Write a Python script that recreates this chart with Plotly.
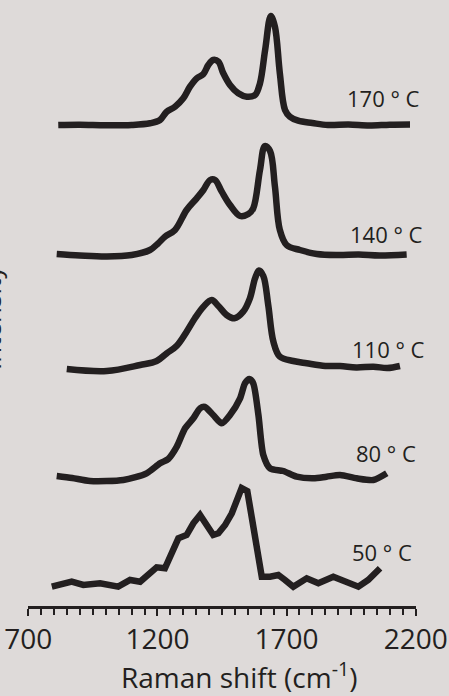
import plotly.graph_objects as go

# Raman spectra recorded at different temperatures (arbitrary intensity units)
temps = ["170 ° C", "140 ° C", "110 ° C", "80 ° C", "50 ° C"]

shift_170 = [816, 900, 1000, 1100, 1171, 1210, 1236, 1268, 1300, 1326, 1352, 1378, 1397, 1416,
             1436, 1455, 1481, 1513, 1546, 1578, 1597, 1617, 1639, 1655, 1674, 1694, 1713,
             1745, 1800, 1860, 1940, 2020, 2100, 2178]
int_170 = [0, 0.3, -0.3, 0, 1.7, 5, 13.3, 18.3, 26.7, 38.3, 46.7, 51, 60, 65,
           63.3, 51.7, 40, 31.7, 28.3, 30, 41.7, 75, 109, 98.3, 51.7, 15, 8.3,
           4.3, 2, 0, 0.5, -0.5, 0.3, 0.5]

shift_140 = [810, 900, 1004, 1100, 1171, 1203, 1229, 1268, 1313, 1352, 1378, 1404, 1423, 1449,
             1481, 1520, 1552, 1571, 1597, 1616, 1636, 1655, 1674, 1700, 1752, 1817,
             1900, 1980, 2060, 2165]
int_140 = [1, -0.5, -1.5, 0, 5, 11.7, 18.3, 25, 45, 56.7, 65, 75, 75, 63.3,
           50, 39, 41, 46.7, 85, 109, 104, 68.3, 25, 10, 5, 1,
           0, 0.5, -0.5, 0.5]

shift_110 = [849, 1004, 1133, 1197, 1236, 1275, 1313, 1345, 1378, 1410, 1436, 1468, 1498, 1532,
             1558, 1578, 1593, 1610, 1629, 1649, 1674, 1726, 1778, 1850, 1907, 1970, 2036,
             2090, 2139]
int_110 = [0, -2, 4, 8, 15.7, 23.3, 37.3, 50.7, 62.3, 69, 63, 54, 50.7, 57.3,
           70.7, 90.7, 98.5, 93, 64, 27.3, 12.3, 8, 5.7, 3, 3, 1.5, 2.3,
           1, 3]

shift_80 = [810, 870, 939, 1068, 1158, 1210, 1242, 1275, 1307, 1339, 1365, 1384, 1416, 1449,
            1481, 1520, 1539, 1556, 1571, 1591, 1610, 1636, 1687, 1739, 1804, 1855, 1907,
            1971, 2036, 2088]
int_80 = [2, 0, -3, -2, 4.7, 14.7, 19, 31.3, 49.7, 59.7, 69.7, 71, 63, 54.7,
          63, 79.7, 94.7, 99, 94.7, 63, 23, 9.7, 7, 1.3, -0.3, 1.3, 3,
          -0.3, -2, 4.7]

shift_50 = [791, 868, 913, 978, 1048, 1094, 1133, 1178, 1197, 1229, 1255, 1281, 1313, 1339,
            1365, 1391, 1416, 1436, 1462, 1488, 1507, 1526, 1548, 1565, 1584, 1604, 1636,
            1668, 1694, 1726, 1778, 1823, 1881, 1933, 1978, 2016, 2062]
int_50 = [-1.7, 3.3, 0, 1.7, -1.7, 5, 3.3, 15, 17.7, 16.7, 30, 46.7, 50, 61.7,
          70, 60, 50, 51.7, 60, 71.7, 83.3, 97, 94, 68.3, 31.7, 8.3, 8.3,
          10, 5, -1.7, 6.7, 1.7, 8.3, 3.3, -1.7, 5, 16.7]

# vertical stacking offsets of each spectrum
offsets = [481, 351, 237, 128, 21]
# where each temperature tag sits (Raman shift, height above its baseline)
label_x = [2077, 2085, 2096, 2085, 2070]
label_dy = [27, 21, 20, 25, 33]

x_range = [700, 2200]
x_major = [700, 1200, 1700, 2200]

spectra = [(shift_170, int_170), (shift_140, int_140), (shift_110, int_110),
           (shift_80, int_80), (shift_50, int_50)]
smoothing = [1.0, 1.0, 1.0, 0.7, 0.0]

INK = "#231f20"
BG = "#dedad9"
W, H = 449, 696

fig = go.Figure()
for (xs, ys), off, sm in zip(spectra, offsets, smoothing):
    line = dict(color=INK, width=6.5)
    if sm > 0:
        line.update(shape="spline", smoothing=sm)
    fig.add_trace(go.Scatter(
        x=xs, y=[v + off for v in ys], mode="lines", line=line,
        hoverinfo="skip", showlegend=False))

annotations = []
for t, lx, dy, off in zip(temps, label_x, label_dy, offsets):
    annotations.append(dict(x=lx, y=off + dy, xref="x", yref="y", text=t,
                            showarrow=False, xanchor="center", yanchor="middle",
                            font=dict(family="Open Sans", size=22, color=INK)))

# axis title below the ticks
annotations.append(dict(x=239.5 / W, y=1 - 675 / H, xref="paper", yref="paper",
                        text="Raman shift (cm<sup>-1</sup>)", showarrow=False,
                        xanchor="center", yanchor="middle",
                        font=dict(family="Open Sans", size=28, color=INK)))
# vertical intensity title at the left edge, mostly beyond the page border
annotations.append(dict(x=11 / W, y=1 - 318 / H, xref="paper", yref="paper",
                        text="Intensity", textangle=-90, showarrow=False,
                        xanchor="right", yanchor="middle",
                        font=dict(family="Open Sans", size=26, color=INK)))

fig.update_layout(
    width=W, height=H,
    margin=dict(l=0, r=0, t=0, b=0, pad=0),
    paper_bgcolor=BG, plot_bgcolor=BG,
    annotations=annotations,
    xaxis=dict(domain=[28.3 / W, 415.7 / W], range=x_range,
               tickvals=x_major, ticktext=[str(v) for v in x_major],
               ticks="outside", ticklen=7, tickwidth=2, tickcolor=INK,
               showline=True, linecolor=INK, linewidth=2.5,
               showgrid=False, zeroline=False,
               tickfont=dict(family="Open Sans", size=28, color=INK),
               minor=dict(dtick=50, tick0=700, ticks="outside", ticklen=6,
                          tickwidth=2, tickcolor=INK, showgrid=False),
               automargin=False),
    yaxis=dict(domain=[(H - 606) / H, 1], range=[0, 606],
               visible=False, automargin=False),
)

fig.write_html("out.html")
